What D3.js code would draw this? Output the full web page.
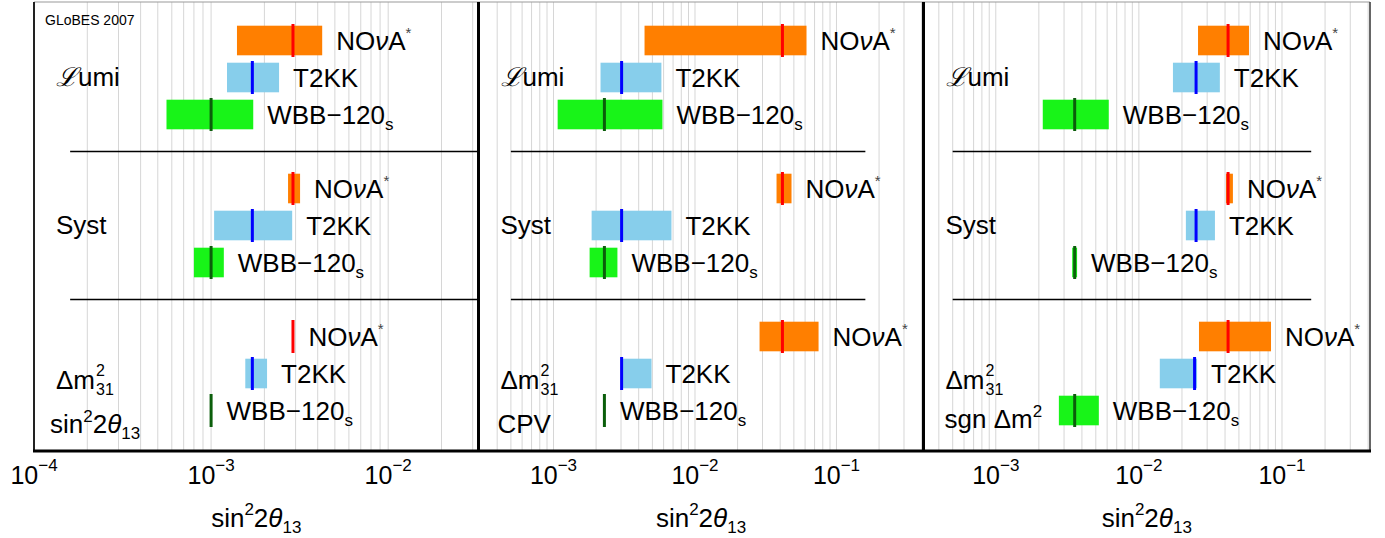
<!DOCTYPE html>
<html><head><meta charset="utf-8">
<script src="https://cdn.jsdelivr.net/npm/d3@7"></script>
<style>body{margin:0;background:#fff} text{font-family:"Liberation Sans",Arial,sans-serif;fill:#000}</style>
</head><body><svg id="c" width="1385" height="538"></svg>
<script>
// ---------- data ----------
const experiments = ["NOvA", "T2KK", "WBB"];
const rowNames = ["Lumi", "Syst", "Dm2"];
const panelIds = ["th13", "cpv", "mh"];
// panel 1: sin^2 2theta13 discovery reach (rows: Lumi, Syst, Dm2; cols: NOvA, T2KK, WBB)
const th13Low  = [[1.40e-3, 1.23e-3, 5.6e-4], [2.72e-3, 1.04e-3, 8.0e-4], [2.90e-3, 1.56e-3, 1.0e-3]];
const th13Best = [[2.90e-3, 1.71e-3, 1.0e-3], [2.90e-3, 1.71e-3, 1.0e-3], [2.90e-3, 1.71e-3, 1.0e-3]];
const th13High = [[4.24e-3, 2.42e-3, 1.73e-3], [3.18e-3, 2.87e-3, 1.18e-3], [2.90e-3, 2.07e-3, 1.0e-3]];
// panel 2: CP violation
const cpvLow  = [[4.4e-3, 2.15e-3, 1.07e-3], [0.0377, 1.86e-3, 1.80e-3], [0.0286, 3.03e-3, 2.29e-3]];
const cpvBest = [[0.0415, 3.03e-3, 2.29e-3], [0.0415, 3.03e-3, 2.29e-3], [0.0415, 3.03e-3, 2.29e-3]];
const cpvHigh = [[0.0614, 5.79e-3, 5.89e-3], [0.0481, 6.82e-3, 2.83e-3], [0.0747, 4.93e-3, 2.29e-3]];
// panel 3: mass hierarchy
const mhLow  = [[0.0259, 0.0173, 2.13e-3], [0.0406, 0.0213, 3.42e-3], [0.0263, 0.0140, 2.76e-3]];
const mhBest = [[0.0420, 0.0251, 3.56e-3], [0.0420, 0.0251, 3.56e-3], [0.0420, 0.0245, 3.56e-3]];
const mhHigh = [[0.0588, 0.0368, 6.16e-3], [0.0454, 0.0340, 3.70e-3], [0.0838, 0.0255, 5.25e-3]];
// tick values
const ticks1 = [1e-4, 1e-3, 1e-2];
const ticks23 = [1e-3, 1e-2, 1e-1];
// separator line extents (data units)
const sepExtent = [[1.6e-4, 0.04], [5e-4, 0.16], [5e-4, 0.16]];

// ---------- layout ----------
const svg = d3.select("#c");
const barColors = {NOvA: "#ff7f00", T2KK: "#87ceeb", WBB: "#18f418"};
const lineColors = {NOvA: "#ff0000", T2KK: "#0000ff", WBB: "#0b5e0b"};
const yTop = 2, yBot = 451;
const panels = [
  {id: "th13", domain: [1e-4, Math.pow(10, -1.49)], range: [34, 478.5], low: th13Low, best: th13Best, high: th13High, ticks: ticks1},
  {id: "cpv", domain: [Math.pow(10, -3.53), Math.pow(10, -0.385)], range: [478.5, 923.5], low: cpvLow, best: cpvBest, high: cpvHigh, ticks: ticks23},
  {id: "mh", domain: [Math.pow(10, -3.505), Math.pow(10, -0.385)], range: [923.5, 1370], low: mhLow, best: mhBest, high: mhHigh, ticks: ticks23}
];
const y = d3.scaleLinear().domain([0, 10]).range([40.5, 410.5]);
const FS = 26;

panels.forEach((p, pi) => {
  const x = d3.scaleLog().domain(p.domain).range(p.range);
  const g = svg.append("g");
  const clipId = "clip" + pi;
  svg.append("clipPath").attr("id", clipId).append("rect")
    .attr("x", p.range[0]).attr("y", yTop).attr("width", p.range[1] - p.range[0]).attr("height", yBot - yTop);
  // grid
  g.append("g").attr("clip-path", `url(#${clipId})`).selectAll("line").data(x.ticks()).join("line")
    .attr("x1", d => x(d)).attr("x2", d => x(d)).attr("y1", yTop).attr("y2", yBot)
    .attr("stroke", "#d6d6d6").attr("stroke-width", 1);
  // separators
  [3, 7].forEach(s => {
    g.append("line").attr("x1", Math.max(x(sepExtent[pi][0]), p.range[0])).attr("x2", Math.min(x(sepExtent[pi][1]), p.range[1]))
      .attr("y1", y(s)).attr("y2", y(s)).attr("stroke", "#000").attr("stroke-width", 1.5);
  });
  // bars
  for (let r = 0; r < 3; r++) {
    experiments.forEach((e, ei) => {
      const lo = p.low[r][ei], hi = p.high[r][ei], b = p.best[r][ei];
      const yc = y(r * 4 + ei);
      if (hi > lo) {
        g.append("rect").attr("x", x(lo)).attr("y", yc - 14.8).attr("width", x(hi) - x(lo)).attr("height", 29.6)
          .attr("fill", barColors[e]);
      }
      g.append("line").attr("x1", x(b)).attr("x2", x(b)).attr("y1", yc - 16.5).attr("y2", yc + 16.5)
        .attr("stroke", lineColors[e]).attr("stroke-width", 3);
      const lx = Math.max(x(hi), x(b) + 1.5) + 14;
      const t = g.append("text").attr("x", lx).attr("y", yc + 9).attr("font-size", FS);
      if (e === "NOvA") {
        t.append("tspan").text("NO");
        t.append("tspan").attr("font-style", "italic").text("ν");
        t.append("tspan").text("A");
        t.append("tspan").attr("font-size", 15).attr("dy", -12).attr("fill", "#444").text("*");
      } else if (e === "T2KK") {
        t.text("T2KK");
      } else {
        t.append("tspan").text("WBB−120");
        t.append("tspan").attr("font-size", 17).attr("dy", 6).text("s");
      }
    });
  }
  // row labels
  const rx = p.range[0] + 22;
  const lum = g.append("text").attr("x", rx).attr("y", y(1) + 8.5).attr("font-size", FS);
  lum.append("tspan").attr("font-family", "DejaVu Serif").attr("font-style", "italic").text("ℒ");
  lum.append("tspan").text("umi");
  g.append("text").attr("x", rx).attr("y", y(5) + 8).attr("font-size", FS).text("Syst");
  // Δm^2_31 as a single text element
  const dm = g.append("text").attr("x", rx).attr("y", y(9) + 15.5).attr("font-size", FS);
  const dmBase = dm.append("tspan").text("Δm");
  const w = dmBase.node().getComputedTextLength();
  dm.append("tspan").attr("font-size", 16).attr("dx", 1).attr("dy", -13).text("2");
  dm.append("tspan").attr("font-size", 16).attr("x", rx + w + 1).attr("dy", 19).text("31");
  if (pi === 0) {
    const s = g.append("text").attr("x", rx - 6).attr("y", 433).attr("font-size", FS);
    s.append("tspan").text("sin");
    s.append("tspan").attr("font-size", 17).attr("dy", -11).text("2");
    s.append("tspan").attr("dy", 11).text("2");
    s.append("tspan").attr("font-style", "italic").text("θ");
    s.append("tspan").attr("font-size", 17).attr("dy", 6).text("13");
  } else if (pi === 1) {
    g.append("text").attr("x", rx - 3).attr("y", 433).attr("font-size", FS).text("CPV");
  } else {
    const s = g.append("text").attr("x", rx - 1).attr("y", 428).attr("font-size", FS);
    s.append("tspan").text("sgn Δm");
    s.append("tspan").attr("font-size", 17).attr("dy", -11).text("2");
  }
  // tick labels
  p.ticks.forEach(tv => {
    const e = Math.round(Math.log10(tv));
    const t = svg.append("text").attr("y", 484).attr("font-size", 25).attr("text-anchor", "middle");
    t.append("tspan").text("10");
    t.append("tspan").attr("font-size", 17).attr("dy", -13).text("−" + Math.abs(e));
    t.attr("x", x(tv));
  });
  // axis title
  const cx = (p.range[0] + p.range[1]) / 2;
  const at = svg.append("text").attr("x", cx).attr("y", 527).attr("font-size", 26).attr("text-anchor", "middle");
  at.append("tspan").text("sin");
  at.append("tspan").attr("font-size", 17).attr("dy", -12).text("2");
  at.append("tspan").attr("dy", 12).text("2");
  at.append("tspan").attr("font-style", "italic").text("θ");
  at.append("tspan").attr("font-size", 17).attr("dy", 6).text("13");
});

// frame
svg.append("line").attr("x1", 34).attr("x2", 1370).attr("y1", yTop).attr("y2", yTop).attr("stroke", "#999").attr("stroke-width", 1);
svg.append("line").attr("x1", 34).attr("x2", 34).attr("y1", yTop).attr("y2", yBot).attr("stroke", "#222").attr("stroke-width", 2);
[478.5, 923.5].forEach(xx => svg.append("line").attr("x1", xx).attr("x2", xx).attr("y1", yTop).attr("y2", yBot).attr("stroke", "#000").attr("stroke-width", 3));
svg.append("line").attr("x1", 1370).attr("x2", 1370).attr("y1", yTop).attr("y2", yBot).attr("stroke", "#333").attr("stroke-width", 1.5);
svg.append("line").attr("x1", 33).attr("x2", 1371).attr("y1", yBot).attr("y2", yBot).attr("stroke", "#000").attr("stroke-width", 3);
svg.append("text").attr("x", 45).attr("y", 25).attr("font-size", 14).text("GLoBES 2007");
</script></body></html>
